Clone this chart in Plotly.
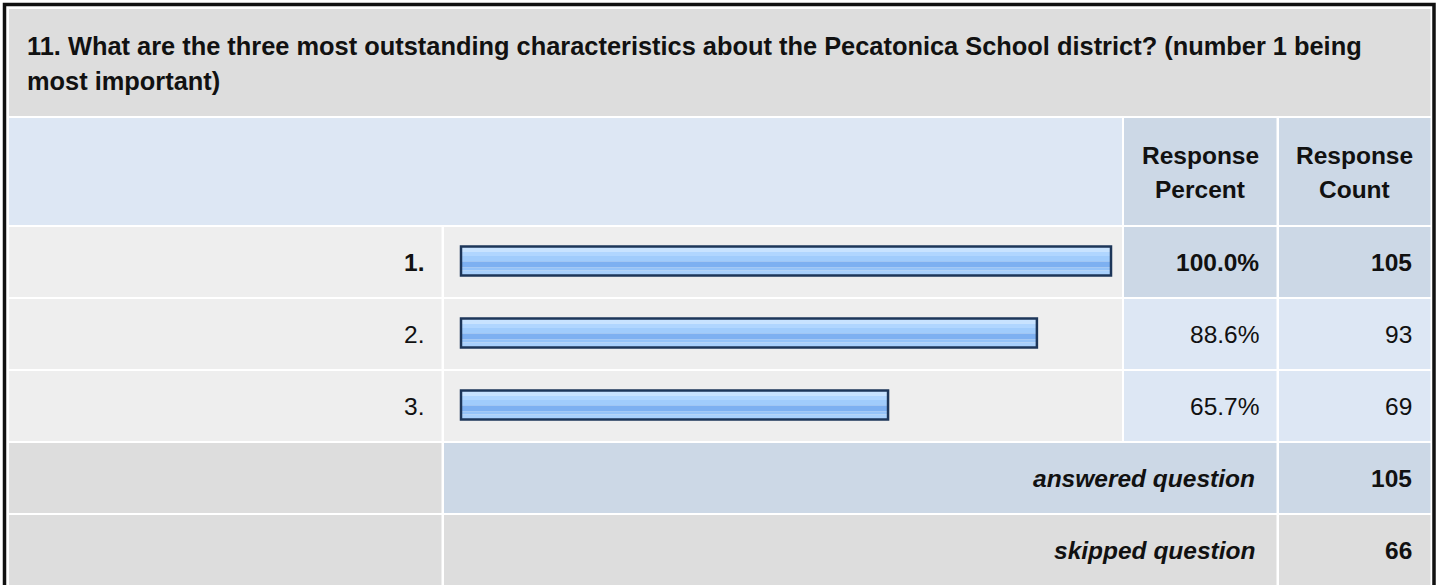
import plotly.graph_objects as go

# ---------------- data ----------------
title_lines = [
    "11. What are the three most outstanding characteristics about the Pecatonica School district? (number 1 being",
    "most important)",
]
choices = ["1.", "2.", "3."]
percents = [100.0, 88.6, 65.7]
counts = [105, 93, 69]
header_pct = ["Response", "Percent"]
header_cnt = ["Response", "Count"]
summary_labels = ["answered question", "skipped question"]
summary_values = [105, 66]

# ---------------- layout constants (pixels) ----------------
W, H = 1440, 585
FONT = "Liberation Sans, Arial, Helvetica, sans-serif"
FS = 24.5
FS_TITLE = 25.4

ROW_TITLE = (9, 116)
ROW_HEADER = (118, 225)
ROW_DATA = [(227, 297), (299, 369), (371, 441)]
ROW_ANS = (443, 513)
ROW_SKIP = (515, 600)
COLS = [(9, 441.5), (444, 1122), (1124, 1276.5), (1279, 1430.5)]

BAR_X0 = 461      # pixel where 0 % sits
BAR_FULL = 650    # pixel length of 100 %
BAR_H = 29

GRAY_D = "#dddddd"
GRAY_L = "#eeeeee"
BLUE_L = "#dde7f4"
BLUE_D = "#ccd8e6"


def px(x):
    return x / W


def py(y):
    return 1 - y / H


shapes = []


def cell(x0, x1, y0, y1, color):
    shapes.append(dict(type="rect", xref="paper", yref="paper",
                       x0=px(x0), x1=px(x1), y0=py(y1), y1=py(y0),
                       fillcolor=color, line=dict(width=0), layer="below"))


# title row
cell(COLS[0][0], COLS[3][1], *ROW_TITLE, GRAY_D)
# header row
cell(COLS[0][0], COLS[1][1], *ROW_HEADER, BLUE_L)
cell(*COLS[2], *ROW_HEADER, BLUE_D)
cell(*COLS[3], *ROW_HEADER, BLUE_D)
# data rows
for i, r in enumerate(ROW_DATA):
    cell(*COLS[0], *r, GRAY_L)
    cell(*COLS[1], *r, GRAY_L)
    c = BLUE_D if i == 0 else BLUE_L
    cell(*COLS[2], *r, c)
    cell(*COLS[3], *r, c)
# answered
cell(*COLS[0], *ROW_ANS, GRAY_D)
cell(COLS[1][0], COLS[2][1], *ROW_ANS, BLUE_D)
cell(*COLS[3], *ROW_ANS, BLUE_D)
# skipped
cell(*COLS[0], *ROW_SKIP, GRAY_D)
cell(COLS[1][0], COLS[2][1], *ROW_SKIP, GRAY_D)
cell(*COLS[3], *ROW_SKIP, GRAY_D)

# outer frame
shapes.append(dict(type="rect", xref="paper", yref="paper",
                   x0=px(4.5), x1=px(1434), y0=py(620), y1=py(4.5),
                   fillcolor="rgba(0,0,0,0)", line=dict(color="#111111", width=3.5),
                   layer="above"))

annotations = []


def text(x, y, s, anchor="left", bold=False, italic=False, size=FS):
    if bold:
        s = "<b>" + s + "</b>"
    if italic:
        s = "<i>" + s + "</i>"
    annotations.append(dict(xref="paper", yref="paper", x=px(x), y=py(y),
                            text=s, showarrow=False, xanchor=anchor, yanchor="middle",
                            font=dict(family=FONT, size=size, color="#111111")))


# title
text(25, 46, title_lines[0], bold=True, size=FS_TITLE)
text(25, 81, title_lines[1], bold=True, size=FS_TITLE)
# header
pc = (COLS[2][0] + COLS[2][1]) / 2
cc = (COLS[3][0] + COLS[3][1]) / 2
text(pc, 156, header_pct[0], anchor="center", bold=True)
text(pc, 190, header_pct[1], anchor="center", bold=True)
text(cc, 156, header_cnt[0], anchor="center", bold=True)
text(cc, 190, header_cnt[1], anchor="center", bold=True)

# data rows text
centers = []
for i, r in enumerate(ROW_DATA):
    yc = (r[0] + r[1]) / 2
    centers.append(yc - 1)
    b = i == 0
    text(COLS[0][1] - 16, yc, choices[i], anchor="right", bold=b)
    text(COLS[2][1] - 16, yc, f"{percents[i]:.1f}%", anchor="right", bold=b)
    text(COLS[3][1] - 17, yc, f"{counts[i]}", anchor="right", bold=b)

# summary rows
for r, lab, val in zip([ROW_ANS, ROW_SKIP], summary_labels, summary_values):
    yc = (r[0] + min(r[1], 585)) / 2
    text(COLS[2][1] - 20, yc, lab, anchor="right", bold=True, italic=True)
    text(COLS[3][1] - 17, yc, f"{val}", anchor="right", bold=True)

fig = go.Figure()

# bar stripes (gradient look), offsets measured from bar top
stripes = [
    (0, 5.5, "#c8e3ff"),
    (5.5, 9.5, "#b0d6ff"),
    (9.5, 15, "#a0ccfc"),
    (15, 21, "#7db0f1"),
    (21, 24, "#95c3f8"),
    (24, 29, "#a8d0fc"),
]
for t0, t1, col in stripes:
    fig.add_trace(go.Bar(
        x=percents, y=centers, base=0, orientation="h",
        offset=-BAR_H / 2 + t0, width=t1 - t0,
        marker=dict(color=col, line=dict(width=0)),
        hoverinfo="skip", showlegend=False,
    ))
# outline
fig.add_trace(go.Bar(
    x=percents, y=centers, base=0, orientation="h",
    offset=-BAR_H / 2, width=BAR_H,
    marker=dict(color="rgba(0,0,0,0)", line=dict(color="#1d3659", width=2.5)),
    showlegend=False, hovertemplate="%{x:.1f}%<extra></extra>",
))

scale = BAR_FULL / 100.0
fig.update_layout(
    width=W, height=H,
    margin=dict(l=0, r=0, t=0, b=0),
    paper_bgcolor="white", plot_bgcolor="rgba(0,0,0,0)",
    barmode="overlay",
    xaxis=dict(range=[-BAR_X0 / scale, (W - BAR_X0) / scale], visible=False,
               fixedrange=True, domain=[0, 1]),
    yaxis=dict(range=[H, 0], visible=False, fixedrange=True, domain=[0, 1]),
    shapes=shapes, annotations=annotations,
    showlegend=False,
)

fig.write_html("out.html", config={"displayModeBar": False},
               post_script="document.body.style.margin='0';document.body.style.overflow='hidden';")
